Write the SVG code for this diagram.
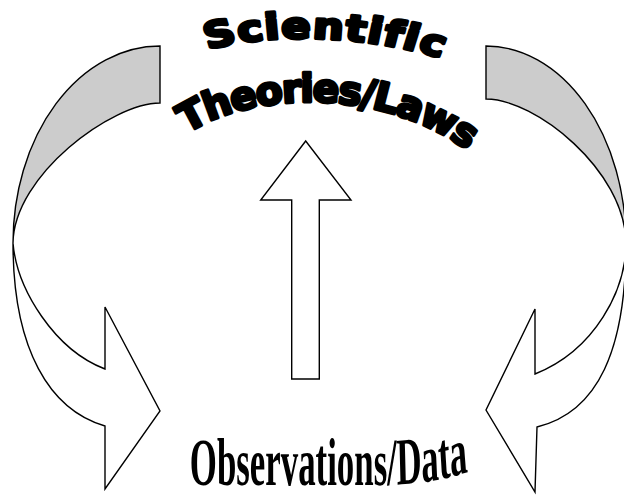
<svg xmlns="http://www.w3.org/2000/svg" width="624" height="500" viewBox="0 0 624 500">
  <style>
    .band { fill: #cccccc; stroke: #000; stroke-width: 1.4; stroke-linejoin: miter; }
    .front { fill: #ffffff; stroke: #000; stroke-width: 1.4; stroke-linejoin: miter; }
    .heavy { font-family: "DejaVu Sans", "Liberation Sans", sans-serif; font-weight: bold; fill: #000; stroke: #000; stroke-width: 3.2; stroke-linejoin: round; }
    .cond { font-family: "Liberation Serif", "DejaVu Serif", serif; font-weight: bold; fill: #000; }
  </style>
  <defs>
    <path id="arcTop" d="M 154,58 C 200,33 300,28 388,66"/>
    <path id="arcMid" d="M 164,152 C 226,88 384,80 479,159"/>
    <path id="arcBot" d="M 355,485 L 730,485 Q 830,485 910,470"/>
  </defs>
  <rect width="624" height="500" fill="#fff"/>
  <g id="connectors">
    <g id="left-curved-arrow">
      <path class="band" d="M 160,46 A 147,197 0 0 0 13,243 C 14,175 112,103 160,103 Z"/>
      <path class="front" d="M 13,243 C 13,350 50,410 105,426 L 105,489 L 160,411 L 105,307 L 105,369 C 55,350 17,290 13,243 Z"/>
    </g>
    <g id="right-curved-arrow">
      <path class="band" d="M 486,46 A 140,197 0 0 1 626,243 C 625,170 535,99 486,99 Z"/>
      <path class="front" d="M 626,243 C 626,350 598,412 537,427 L 535,492 L 486,410 L 535,309 L 535,374 C 595,350 626,290 626,243 Z"/>
    </g>
    <g id="up-arrow">
      <polygon class="front" points="305.7,141 351,200 319.3,200 319.3,379 291.7,379 291.7,200 260.7,200"/>
    </g>
  </g>
  <g id="node-theories">
    <g transform="scale(1.2,1)">
      <text class="heavy" font-size="36" letter-spacing="1" text-anchor="middle">
        <textPath href="#arcTop" startOffset="50%">Scientific</textPath>
      </text>
    </g>
    <text class="heavy" font-size="39" letter-spacing="-1.5" text-anchor="middle">
      <textPath href="#arcMid" startOffset="52%">Theories/Laws</textPath>
    </text>
  </g>
  <g id="node-observations">
    <g transform="scale(0.52,1)">
      <text class="cond" font-size="67" text-anchor="middle">
        <textPath href="#arcBot" startOffset="50%">Observations/Data</textPath>
      </text>
    </g>
  </g>
</svg>
